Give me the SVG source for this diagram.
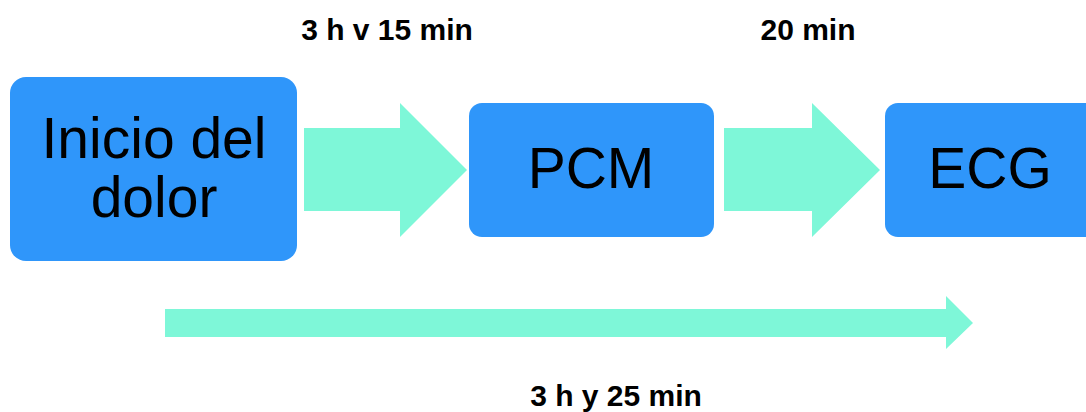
<svg xmlns="http://www.w3.org/2000/svg" width="1086" height="412" viewBox="0 0 1086 412">
<style>
.box{fill:#2f96fa}
.arrow{fill:#7ef7d8}
.big{font-family:"Liberation Sans",Arial,sans-serif;font-size:57px;fill:#000;text-anchor:middle}
.lbl{font-family:"Liberation Sans",Arial,sans-serif;font-size:30px;font-weight:bold;fill:#000;text-anchor:middle}
</style>
<rect width="1086" height="412" fill="#fff"/>
<g id="connectors">
<polygon class="arrow" points="304,128 400,128 400,103 467,170 400,237 400,211 304,211"/>
<polygon class="arrow" points="724,128 812,128 812,103 880,170 812,237 812,211 724,211"/>
<polygon class="arrow" points="165,309 946,309 946,296 973,323 946,349 946,337 165,337"/>
</g>
<g id="node-inicio">
<rect class="box" x="10" y="77" width="287" height="184" rx="16"/>
<text class="big" x="154" y="158">Inicio del</text>
<text class="big" x="154" y="217">dolor</text>
</g>
<g id="node-pcm">
<rect class="box" x="469" y="103" width="245" height="134" rx="13"/>
<text class="big" x="591" y="188">PCM</text>
</g>
<g id="node-ecg">
<rect class="box" x="885" y="103" width="215" height="134" rx="13"/>
<text class="big" x="990" y="188">ECG</text>
</g>
<g id="labels">
<text class="lbl" x="387" y="40">3 h v 15 min</text>
<text class="lbl" x="808" y="40">20 min</text>
<text class="lbl" x="616" y="406">3 h y 25 min</text>
</g>
</svg>
